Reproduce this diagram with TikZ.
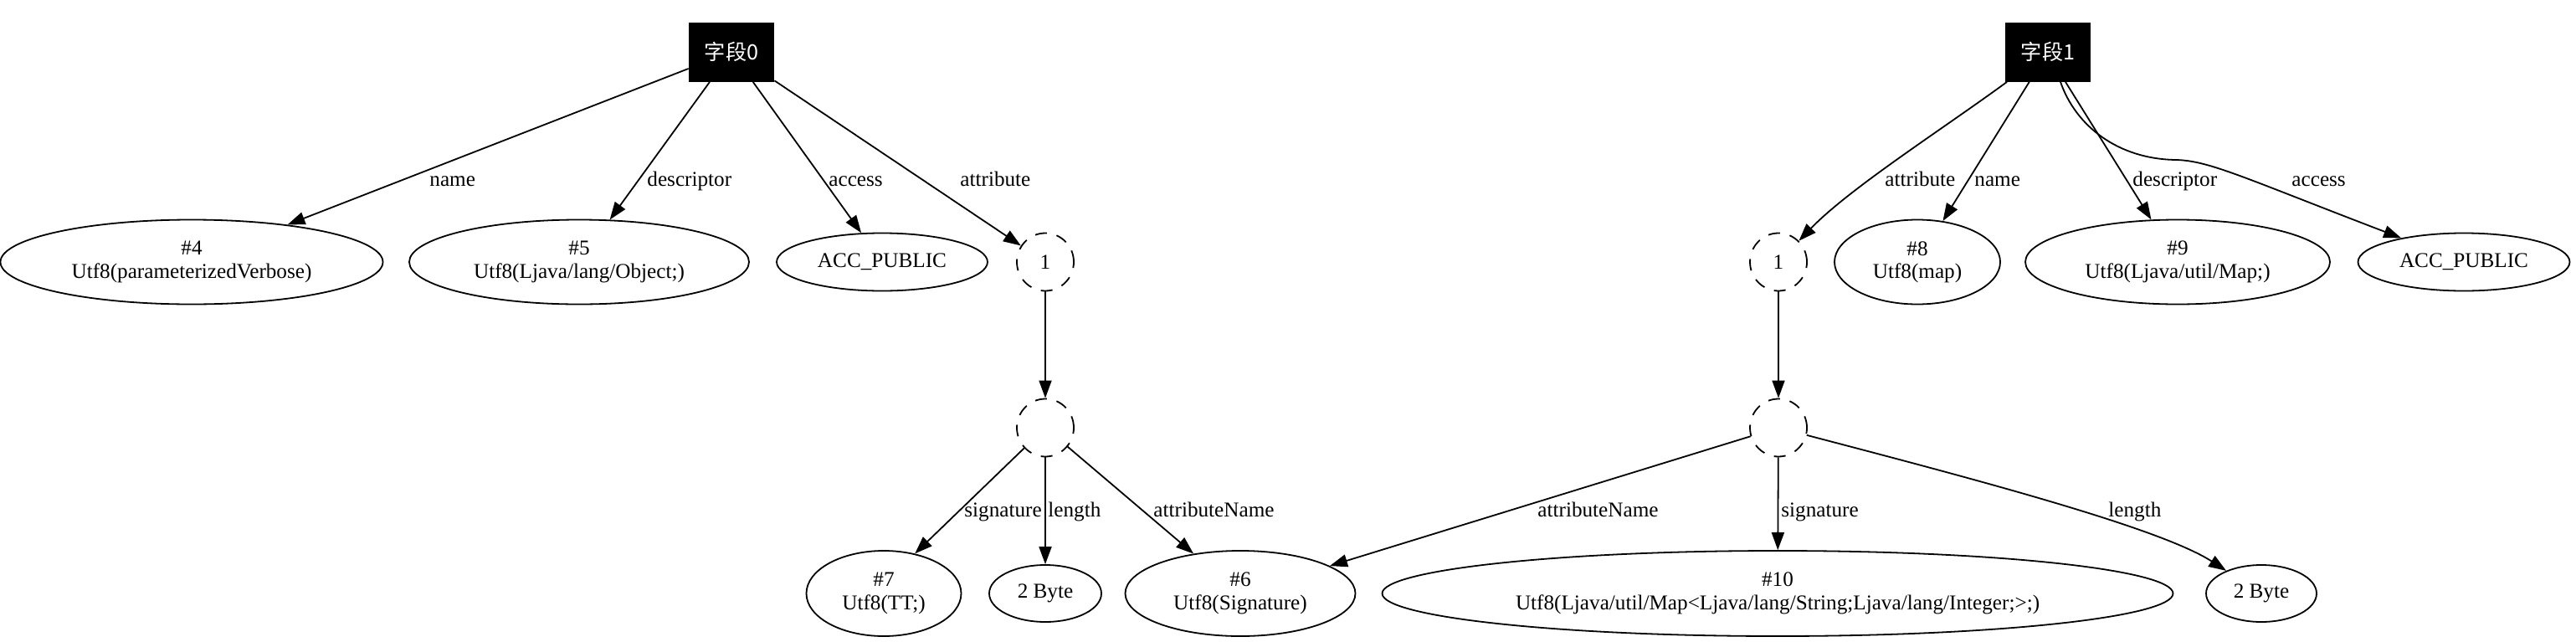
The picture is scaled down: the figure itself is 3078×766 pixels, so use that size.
\documentclass[tikz,border=0pt]{standalone}
\usepackage{fontspec}
\setmainfont{Liberation Serif}
\newfontfamily\gvfont{Liberation Serif}
\newfontfamily\cjkfont{Noto Sans CJK SC}
\usepackage{tikz}
\usetikzlibrary{calc,positioning,arrows.meta,shapes.geometric}

\begin{document}
\begin{tikzpicture}[x=0.5pt,y=-0.5pt,
    font=\gvfont\fontsize{12.6}{13.7}\selectfont,
    field/.style={rectangle,fill=black,text=white,inner sep=0pt,
        minimum width=51pt,minimum height=35.5pt,font=\fontsize{12.6}{13.7}\selectfont\cjkfont},
    entry/.style={ellipse,draw,line width=0.9pt,inner sep=0pt,align=center,minimum height=50.5pt},
    blank/.style={ellipse,draw,line width=0.9pt,dash pattern=on 7pt off 6pt,inner sep=0pt,
        minimum width=34pt,minimum height=34.5pt},
    lbl/.style={inner sep=0pt,anchor=base west},
    link/.style={->,line width=0.9pt},
    >={Triangle[length=10.5pt,width=7.5pt]}]

\useasboundingbox (0,0) rectangle (3078,766);

% field 0
\node[field] (f0) at (874,62) {字段0};
\node[entry,minimum width=228.5pt] (u4) at (229,313) {\#4\\Utf8(parameterizedVerbose)};
\node[entry,minimum width=203pt] (u5) at (692,313) {\#5\\Utf8(Ljava/lang/Object;)};
\node[entry,minimum width=126pt,minimum height=34.5pt] (accL) at (1054,313) {ACC\_PUBLIC};
\node[blank] (oneL) at (1249,313) {1};
\node[blank] (eL) at (1249,511) {};
\node[entry,minimum width=92.5pt,minimum height=51pt] (u7) at (1056,709) {\#7\\Utf8(TT;)};
\node[entry,minimum width=67pt,minimum height=34pt] (b2L) at (1249,709) {2 Byte};
\node[entry,minimum width=137.5pt,minimum height=51pt] (u6) at (1482,709) {\#6\\Utf8(Signature)};

% field 1
\node[field] (f1) at (2447,62) {字段1};
\node[blank] (oneR) at (2125,313) {1};
\node[entry,minimum width=99pt] (u8) at (2291,313) {\#8\\Utf8(map)};
\node[entry,minimum width=182pt] (u9) at (2602,313) {\#9\\Utf8(Ljava/util/Map;)};
\node[entry,minimum width=126.5pt,minimum height=34.5pt] (accR) at (2944,313) {ACC\_PUBLIC};
\node[blank] (eR) at (2125,511) {};
\node[entry,minimum width=472.5pt,minimum height=51pt] (u10) at (2124,709)
    {\#10\\Utf8(Ljava/util/Map<Ljava/lang/String;Ljava/lang/Integer;>;)};
\node[entry,minimum width=66pt,minimum height=34pt] (b2R) at (2702,709) {2 Byte};

% edges of field 0
\draw[link] (f0) -- (u4);
\draw[link] (f0) -- (u5);
\draw[link] (f0) -- (accL);
\draw[link] (f0) -- (oneL);
\draw[link] (oneL) -- (eL);
\draw[link] (eL) -- (u7.52);
\draw[link] (eL) -- (b2L);
\draw[link] (eL) -- (u6);

% edges of field 1
\draw[link] (f1) .. controls (2320,155) and (2210,225) .. (oneR);
\draw[link] (f1) -- (u8);
\draw[link] ([xshift=10.5pt]f1.south) -- (u9);
\draw[link] ([xshift=7.5pt]f1.south) .. controls (2480,150) and (2530,190) .. (2600,191)
    .. controls (2640,192) and (2680,212) .. (accR);
\draw[link] (oneR) -- (eR);
\draw[link] (eR) -- (u6);
\draw[link] (eR) -- (u10);
\draw[link] (eR) .. controls (2350,570) and (2580,630) .. (b2R);

% edge labels
\node[lbl] (lname0) at (513,222) {name};
\node[lbl] (ldesc0) at (773,222) {descriptor};
\node[lbl] (lacc0) at (990,222) {access};
\node[lbl] (lattr0) at (1147,222) {attribute};
\node[lbl] (lattr1) at (2252,222) {attribute};
\node[lbl] (lname1) at (2359,222) {name};
\node[lbl] (ldesc1) at (2548,222) {descriptor};
\node[lbl] (lacc1) at (2738,222) {access};
\node[lbl] (lsig0) at (1152,617) {signature};
\node[lbl] (llen0) at (1252,617) {length};
\node[lbl] (lan0) at (1378,617) {attributeName};
\node[lbl] (lan1) at (1837,617) {attributeName};
\node[lbl] (lsig1) at (2128,617) {signature};
\node[lbl] (llen1) at (2519,617) {length};

\end{tikzpicture}
\end{document}
